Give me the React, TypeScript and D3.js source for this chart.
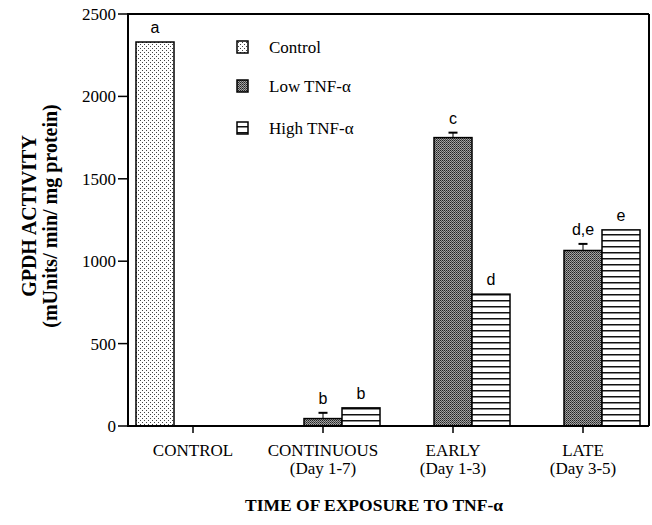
import React from "react";
import * as d3 from "d3";

const categories = ["CONTROL", "CONTINUOUS", "EARLY", "LATE"];
const subLabels = ["", "(Day 1-7)", "(Day 1-3)", "(Day 3-5)"];
const series = ["Control", "Low TNF-α", "High TNF-α"];
// values per category for each series (null = no bar)
const controlValues: (number | null)[] = [2330, null, null, null];
const lowValues: (number | null)[] = [null, 45, 1750, 1065];
const highValues: (number | null)[] = [null, 110, 800, 1190];
const lowErrors: (number | null)[] = [null, 35, 30, 40];
const controlLetters = ["a", "", "", ""];
const lowLetters = ["", "b", "c", "d,e"];
const highLetters = ["", "b", "d", "e"];
const yTicks = [0, 500, 1000, 1500, 2000, 2500];

const W = 652, H = 525;
const left = 128, right = 649, top = 14, bottom = 426;

export default function App() {
  const x = d3.scalePoint<string>().domain(categories).range([193, 583]);
  const sub = d3.scaleBand<string>().domain(series).range([-57, 57]);
  const y = d3.scaleLinear().domain([0, 2500]).range([bottom, top]);
  const bw = sub.bandwidth();
  const fills = ["url(#pCtrl)", "url(#pLow)", "url(#pHigh)"];
  const valueSets = [controlValues, lowValues, highValues];
  const letterSets = [controlLetters, lowLetters, highLetters];
  const serif = "'Liberation Serif', 'Times New Roman', serif";
  const sans = "'Liberation Sans', Arial, sans-serif";

  const bars: React.ReactNode[] = [];
  const labels: React.ReactNode[] = [];
  valueSets.forEach((vals, si) => {
    vals.forEach((v, ci) => {
      if (v == null) return;
      const x0 = (x(categories[ci]) as number) + (sub(series[si]) as number);
      bars.push(
        <rect key={`b${si}-${ci}`} x={x0} y={y(v)} width={bw} height={bottom - y(v)}
          fill={fills[si]} stroke="#000" strokeWidth={1.5} />
      );
      let topY = y(v);
      if (si === 1 && lowErrors[ci] != null) {
        const ey = y(v + (lowErrors[ci] as number));
        const cx = x0 + bw / 2;
        bars.push(
          <g key={`e${ci}`} stroke="#000">
            <line x1={cx} x2={cx} y1={ey} y2={y(v)} strokeWidth={1} />
            <line x1={cx - 4.5} x2={cx + 4.5} y1={ey} y2={ey} strokeWidth={2} />
          </g>
        );
        topY = ey;
      }
      const t = letterSets[si][ci];
      if (t) {
        labels.push(
          <text key={`l${si}-${ci}`} x={x0 + bw / 2} y={topY - 9} textAnchor="middle"
            fontFamily={sans} fontSize={16}>{t}</text>
        );
      }
    });
  });

  const legendY = [47, 86, 128];

  return (
    <svg width={W} height={H} style={{ position: "absolute", left: 0, top: 0, background: "#fff" }}>
      <defs>
        <pattern id="pCtrl" width={4} height={4} patternUnits="userSpaceOnUse">
          <rect width={4} height={4} fill="#fff" />
          <rect x={0} y={0} width={1} height={1} fill="#444" />
          <rect x={2} y={2} width={1} height={1} fill="#444" />
        </pattern>
        <pattern id="pLow" width={2} height={2} patternUnits="userSpaceOnUse">
          <rect x={0} y={0} width={1} height={1} fill="#222" />
          <rect x={1} y={0} width={1} height={1} fill="#999" />
          <rect x={0} y={1} width={1} height={1} fill="#aaa" />
          <rect x={1} y={1} width={1} height={1} fill="#4a4a4a" />
        </pattern>
        <pattern id="pHigh" width={6} height={6} patternUnits="userSpaceOnUse">
          <rect width={6} height={6} fill="#fff" />
          <rect x={0} y={0} width={6} height={1.5} fill="#111" />
        </pattern>
      </defs>

      {bars}
      {labels}

      {/* frame */}
      <line x1={left} x2={right} y1={top} y2={top} stroke="#000" strokeWidth={2} />
      <line x1={right} x2={right} y1={top} y2={bottom} stroke="#000" strokeWidth={2} />
      <line x1={left} x2={right} y1={bottom} y2={bottom} stroke="#000" strokeWidth={2} />
      <line x1={left} x2={left} y1={top - 1} y2={bottom + 1} stroke="#000" strokeWidth={2} />

      {/* y ticks */}
      {yTicks.map((t) => (
        <g key={t}>
          <line x1={left - 10} x2={left} y1={y(t)} y2={y(t)} stroke="#000" strokeWidth={1.5} />
          <text x={left - 12} y={y(t) + 6} textAnchor="end" fontFamily={serif} fontSize={17}>{t}</text>
        </g>
      ))}

      {/* x ticks & labels */}
      {categories.map((c, i) => (
        <g key={c}>
          <line x1={x(c)} x2={x(c)} y1={bottom} y2={bottom + 7} stroke="#000" strokeWidth={1.5} />
          <text x={x(c)} y={456} textAnchor="middle" fontFamily={serif} fontSize={17}>{c}</text>
          {subLabels[i] && (
            <text x={x(c)} y={474} textAnchor="middle" fontFamily={serif} fontSize={17}>{subLabels[i]}</text>
          )}
        </g>
      ))}

      {/* legend */}
      {series.map((s, i) => (
        <g key={s}>
          <rect x={237} y={legendY[i] - 6} width={11} height={12} fill={fills[i]} stroke="#000" strokeWidth={1.5} />
          <text x={269} y={legendY[i] + 5.5} fontFamily={serif} fontSize={17}>{s}</text>
        </g>
      ))}

      {/* axis titles */}
      <text x={374} y={511} textAnchor="middle" fontFamily={serif} fontSize={17.5} fontWeight="bold">
        TIME OF EXPOSURE TO TNF-α
      </text>
      <g transform="translate(0,216) rotate(-90)">
        <text x={0} y={36} textAnchor="middle" fontFamily={serif} fontSize={20} fontWeight="bold">GPDH ACTIVITY</text>
        <text x={0} y={57} textAnchor="middle" fontFamily={serif} fontSize={20} fontWeight="bold">(mUnits/ min/ mg protein)</text>
      </g>
    </svg>
  );
}
